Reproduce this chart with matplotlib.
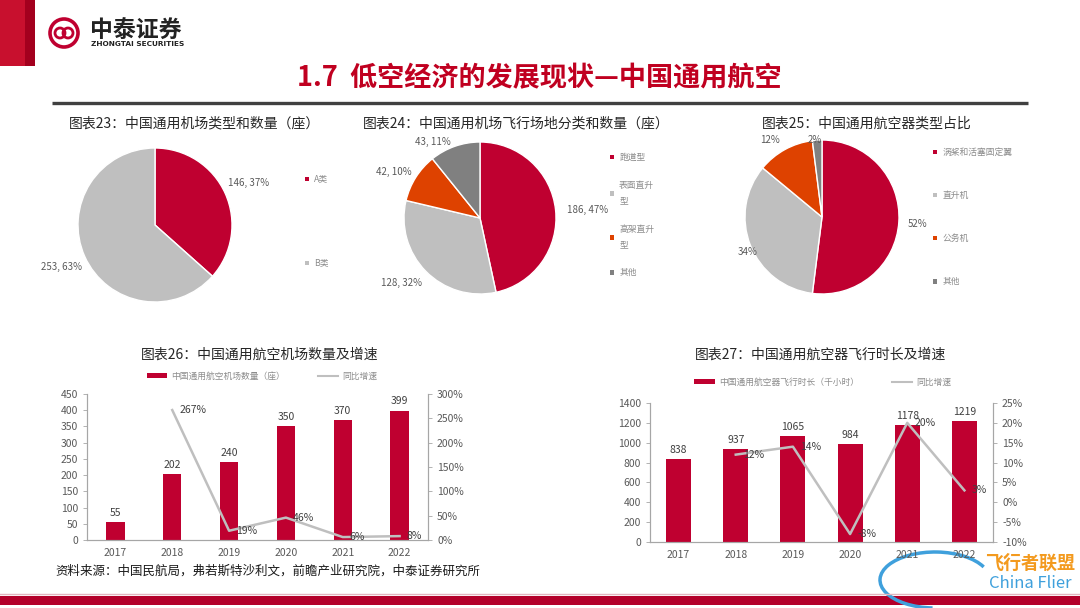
import numpy as np
import matplotlib.pyplot as plt
from matplotlib.patches import Rectangle, Circle, Patch, Arc
from matplotlib.lines import Line2D
from matplotlib.ticker import FuncFormatter, MultipleLocator

plt.rcParams['font.family'] = ['Noto Sans CJK SC', 'DejaVu Sans']

# 图表23: 通用机场类型
pie1_labels = ['A类', 'B类']
pie1_values = [146, 253]
pie1_pct = [37, 63]

# 图表24: 飞行场地分类
pie2_labels = ['跑道型', '表面直升\n型', '高架直升\n型', '其他']
pie2_values = [186, 128, 42, 43]
pie2_pct = [47, 32, 10, 11]

# 图表25: 航空器类型占比
pie3_labels = ['涡桨和活塞固定翼', '直升机', '公务机', '其他']
pie3_pct = [52, 34, 12, 2]

# 图表26 / 27
years = ['2017', '2018', '2019', '2020', '2021', '2022']
airports = [55, 202, 240, 350, 370, 399]
airports_growth = [267, 19, 46, 6, 8]      # 2018-2022
flight_hours = [838, 937, 1065, 984, 1178, 1219]
hours_growth = [12, 14, -8, 20, 3]         # 2018-2022

# excel "best fit" spots for the data labels (in pie radius units)
pie2_label_pos = [(1.41, 0.1), (-1.03, -0.86), (-1.13, 0.6), (-0.62, 1.0)]
pie3_label_pos = [(1.24, -0.09), (-0.96, -0.45), (-0.67, 1.0), (-0.09, 1.0)]

RED = '#BF0030'
ORANGE = '#DE4200'
LGRAY = '#BFBFBF'
DGRAY = '#808080'
AXGRAY = '#A6A6A6'
TXT = '#404040'

W, H = 1080, 608
fig = plt.figure(figsize=(W / 100, H / 100), dpi=100)


def rect(x0, y0, x1, y1):
    # pixel box (y from top) -> figure fraction
    return [x0 / W, 1 - y1 / H, (x1 - x0) / W, (y1 - y0) / H]


# background layer in pixel coords
bg = fig.add_axes([0, 0, 1, 1])
bg.set_xlim(0, W)
bg.set_ylim(H, 0)
bg.axis('off')

bg.add_patch(Rectangle((0, 0), 26, 66, color='#C8102E', lw=0))
bg.add_patch(Rectangle((25, 0), 10, 66, color='#A3001E', lw=0))
bg.add_patch(Circle((64, 33), 14, fill=False, ec=RED, lw=2.6))
bg.add_patch(Circle((60, 33), 5, fill=False, ec=RED, lw=2))
bg.add_patch(Circle((68, 33), 5, fill=False, ec=RED, lw=2))
bg.text(90, 31, '中泰证券', fontsize=16.5, fontweight='bold', color='#222222', va='center')
bg.text(91, 44, 'ZHONGTAI SECURITIES', fontsize=5.3, fontweight='bold', color='#222222',
        va='center', family='DejaVu Sans')

bg.text(539, 78, '1.7  低空经济的发展现状—中国通用航空', fontsize=19.5, fontweight='bold',
        color='#C00020', ha='center', va='center')
bg.plot([52, 1028], [102.5, 102.5], color='#404040', lw=2.4, solid_capstyle='butt')

title_kw = dict(fontsize=10, color='#262626', ha='center', va='center')
bg.text(194, 123, '图表23：中国通用机场类型和数量（座）', **title_kw)
bg.text(516, 123, '图表24：中国通用机场飞行场地分类和数量（座）', **title_kw)
bg.text(867, 123, '图表25：中国通用航空器类型占比', **title_kw)
bg.text(260, 355, '图表26：中国通用航空机场数量及增速', **title_kw)
bg.text(821, 355, '图表27：中国通用航空器飞行时长及增速', **title_kw)

bg.text(55, 571, '资料来源：中国民航局，弗若斯特沙利文，前瞻产业研究院，中泰证券研究所',
        fontsize=9, color='#1a1a1a', va='center')

bg.add_patch(Rectangle((0, 596), W, 9, color='#B4002A', lw=0))
bg.plot([0, W], [593.5, 593.5], color='#E3B5BE', lw=1)

# watermark
bg.add_patch(Arc((935, 580), 110, 56, theta1=95, theta2=345, ec='#3FA0DC', lw=2.5))
bg.text(1030, 563, '飞行者联盟', fontsize=13, fontweight='bold', color='#F39A1E',
        ha='center', va='center')
bg.text(1030, 584, 'China Flier', fontsize=12, color='#3FA0DC', ha='center', va='center')


def draw_pie(cx, cy, r, values, texts, colors, dist, label_pos=None):
    ax = fig.add_axes(rect(cx - r, cy - r, cx + r, cy + r))
    wedges, lbls = ax.pie(values, labels=texts, colors=colors, startangle=90,
                          counterclock=False, labeldistance=dist,
                          wedgeprops=dict(edgecolor='white', linewidth=1),
                          textprops=dict(fontsize=7, color='#595959'))
    for i, t in enumerate(lbls):
        t.set_ha('center')
        if label_pos is not None:
            t.set_position(label_pos[i])
    ax.set_xlim(-1, 1)
    ax.set_ylim(-1, 1)
    ax.set_aspect('equal')
    return ax


def pie_legend(ax, labels, colors, x, y, spacing, linesp=1.2):
    handles = [Patch(facecolor=c, edgecolor='none') for c in colors]
    leg = ax.legend(handles, labels, loc='upper left', bbox_to_anchor=(x / W, 1 - y / H),
                    bbox_transform=fig.transFigure, frameon=False, fontsize=6.3,
                    labelcolor='#8C8C8C', handlelength=0.45, handleheight=0.45,
                    handletextpad=0.6, labelspacing=spacing, borderpad=0, borderaxespad=0)
    for t in leg.get_texts():
        t.set_linespacing(linesp)


c1 = [RED, LGRAY]
ax1 = draw_pie(155, 225, 77, pie1_values,
               [f'{v}, {p}%' for v, p in zip(pie1_values, pie1_pct)], c1, 1.33)
pie_legend(ax1, pie1_labels, c1, 305, 175, 8.6)

c4 = [RED, LGRAY, ORANGE, DGRAY]
ax2p = draw_pie(480, 218, 76, pie2_values,
                [f'{v}, {p}%' for v, p in zip(pie2_values, pie2_pct)], c4, 1.35,
                pie2_label_pos)
pie_legend(ax2p, pie2_labels, c4, 610, 153, 2.2, 1.9)

ax3p = draw_pie(822, 217, 77, pie3_pct, [f'{p}%' for p in pie3_pct], c4, 1.1,
                pie3_label_pos)
pie_legend(ax3p, pie3_labels, c4, 933, 148, 3.9)


def combo(box, vals, growth, width, ylim, ystep, y2lim, y2step, bar_name, leg_xy):
    ax = fig.add_axes(rect(*box))
    x = np.arange(len(years))
    bars = ax.bar(x, vals, width=width, color=RED, zorder=2)
    ax.bar_label(bars, padding=3, fontsize=7.5, color=TXT)
    ax.set_xlim(-0.5, len(years) - 0.5)
    ax.set_ylim(*ylim)
    ax.yaxis.set_major_locator(MultipleLocator(ystep))
    ax.set_xticks(x, years)

    ax2 = ax.twinx()
    ax2.plot(x[1:], growth, color=LGRAY, lw=1.8)
    for xi, g in zip(x[1:], growth):
        ax2.annotate(f'{g}%', (xi, g), xytext=(5, 0), textcoords='offset points',
                     ha='left', va='center', fontsize=7.5, color=TXT)
    ax2.set_ylim(*y2lim)
    ax2.yaxis.set_major_locator(MultipleLocator(y2step))
    ax2.yaxis.set_major_formatter(FuncFormatter(lambda v, p: f'{v:.0f}%'))

    for a in (ax, ax2):
        a.spines['top'].set_visible(False)
        for s in ('left', 'right', 'bottom'):
            a.spines[s].set_color(AXGRAY)
            a.spines[s].set_linewidth(0.8)
        a.tick_params(colors='#595959', labelsize=7.5, length=3, width=0.6)
        a.tick_params(color=AXGRAY)
    ax.tick_params(axis='x', length=0, pad=6)

    handles = [Patch(facecolor=RED, edgecolor='none'), Line2D([], [], color=LGRAY, lw=1.5)]
    fig.legend(handles, [bar_name, '同比增速'], loc='center',
               bbox_to_anchor=(leg_xy[0] / W, 1 - leg_xy[1] / H), ncol=2, frameon=False,
               fontsize=6.3, labelcolor='#8C8C8C', handlelength=2.3, handleheight=0.55,
               handletextpad=0.5, columnspacing=3.8, borderpad=0)
    return ax


combo((87, 394, 428, 540), airports, airports_growth, 0.32, (0, 450), 50, (0, 300), 50,
      '中国通用航空机场数量（座）', (262, 376))
combo((650, 403, 993, 542), flight_hours, hours_growth, 0.44, (0, 1400), 200, (-10, 25), 5,
      '中国通用航空器飞行时长（千小时）', (823, 382))

fig.savefig('out.png', dpi=100)
